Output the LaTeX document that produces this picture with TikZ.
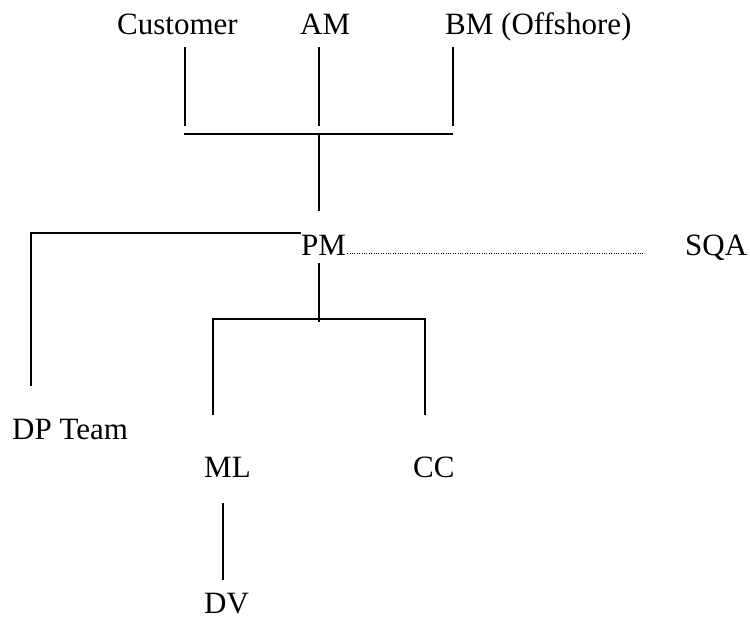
\documentclass[tikz,border=0pt]{standalone}
\usepackage{fontspec}
\setmainfont{Liberation Serif}
\usetikzlibrary{positioning}

\tikzset{
  role/.style={anchor=base west, inner sep=0pt, font=\fontsize{31}{36}\selectfont},
  link/.style={line width=1.4pt},
  staff/.style={line width=1pt, dash pattern=on 0.9pt off 1.5pt}
}

\begin{document}
\begin{tikzpicture}[x=1pt, y=-1pt]
\useasboundingbox (0,0) rectangle (750,623);
% roles
\node[role] (cust) at (117,35) {Customer};
\node[role] (am)   at (300,35) {AM};
\node[role] (bm)   at (445,35) {BM (Offshore)};
\node[role] (pm)   at (301,255) {PM};
\node[role] (sqa)  at (685,255) {SQA};
\node[role] (dp)   at (12,439) {DP Team};
\node[role] (ml)   at (204,477) {ML};
\node[role] (cc)   at (413,477) {CC};
\node[role] (dv)   at (204,613) {DV};
% line ends and junctions
\coordinate (custtop) at (185,47);  \coordinate (custbot) at (185,126);
\coordinate (amtop)   at (319,47);  \coordinate (ambot)   at (319,126);
\coordinate (bmtop)   at (453,47);  \coordinate (bmbot)   at (453,126);
\coordinate (topl) at (184,134);    \coordinate (topr) at (453,134);
\coordinate (topj) at (319,134);    \coordinate (pmtop) at (319,211);
\coordinate (pmleft) at (301,233);  \coordinate (dpend) at (31,386);
\coordinate (pmbot) at (319,263);   \coordinate (midj) at (319,322);
\coordinate (midl) at (213,319);    \coordinate (midr) at (425,319);
\coordinate (mlend) at (213,415);   \coordinate (ccend) at (425,415);
\coordinate (mltop) at (223,503);   \coordinate (dvtop) at (223,580);
\coordinate (sqaend) at (643,253);
% top group
\draw[link] (custtop) -- (custbot);
\draw[link] (amtop) -- (ambot);
\draw[link] (bmtop) -- (bmbot);
\draw[link] (topl) -- (topr);
\draw[link] (topj) -- (pmtop);
% PM branches
\draw[link] (pmleft) -| (dpend);
\draw[link] (pmbot) -- (midj);
\draw[link] (mlend) |- (midl) -- (midr) -- (ccend);
\draw[link] (mltop) -- (dvtop);
\draw[staff] (pm.base east) ++(1,-2) -- (sqaend);
\end{tikzpicture}
\end{document}
